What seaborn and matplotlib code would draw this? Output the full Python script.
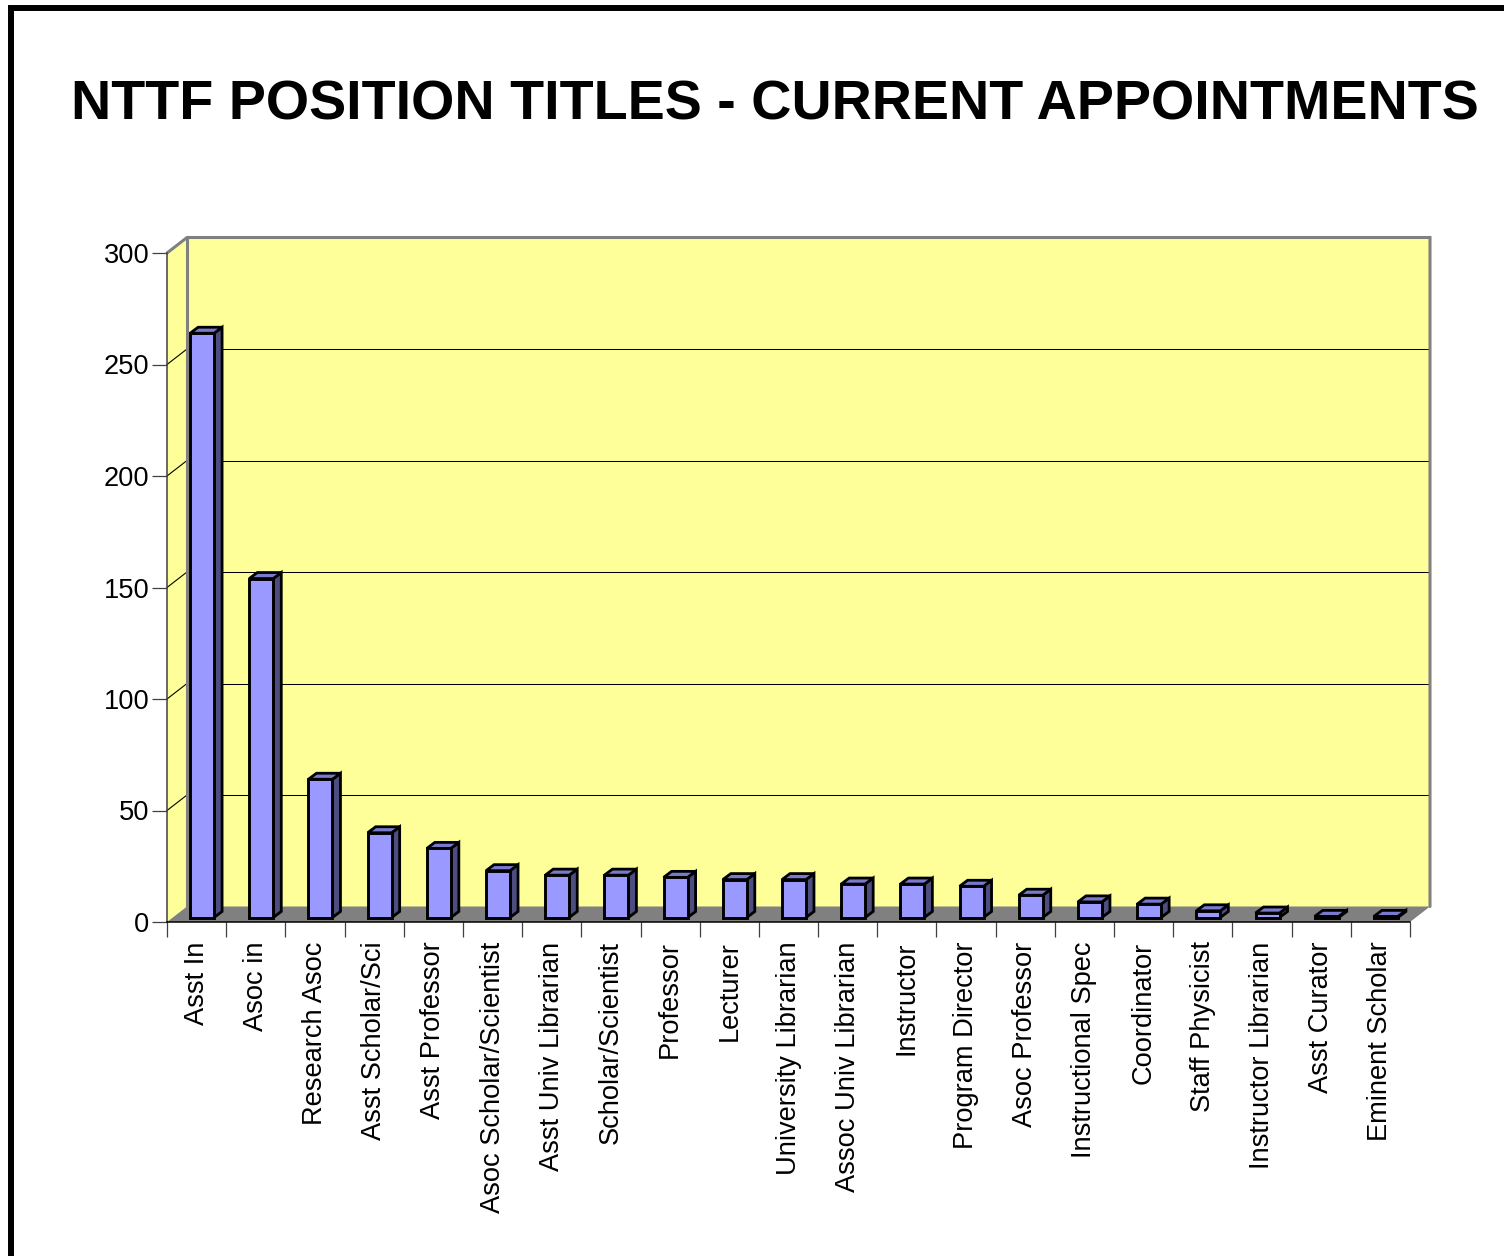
import matplotlib
matplotlib.use('Agg')
import matplotlib.pyplot as plt
import numpy as np
import pandas as pd
import seaborn as sns
from matplotlib.patches import Polygon, Rectangle

titles = ['Asst In', 'Asoc in', 'Research Asoc', 'Asst Scholar/Sci', 'Asst Professor',
          'Asoc Scholar/Scientist', 'Asst Univ Librarian', 'Scholar/Scientist', 'Professor',
          'Lecturer', 'University Librarian', 'Assoc Univ Librarian', 'Instructor',
          'Program Director', 'Asoc Professor', 'Instructional Spec', 'Coordinator',
          'Staff Physicist', 'Instructor Librarian', 'Asst Curator', 'Eminent Scholar']
counts = [262, 152, 62, 38, 31, 21, 19, 19, 18, 17, 17, 15, 15, 14, 10, 7, 6, 3, 2, 0.5, 0.5]
y_ticks = [0, 50, 100, 150, 200, 250, 300]

W, H = 1504, 1256
LEFT, RIGHT, TOP, BOTTOM = 167, 1410, 253, 922
px_x = (RIGHT - LEFT) / len(titles)
px_y = (BOTTOM - TOP) / 300

# depth of the fake 3d box, and of the bars inside it (data units)
wall_dx, wall_dy = 20 / px_x, 15.5 / px_y
bar_dx, bar_dy = 5.5 / px_x, 4.5 / px_y
depth_dx, depth_dy = 8 / px_x, 6 / px_y

sns.set_theme(style='white')
plt.rcParams['font.family'] = ['Liberation Sans', 'DejaVu Sans']

df = pd.DataFrame({'title': titles, 'count': counts})

fig = plt.figure(figsize=(W / 100, H / 100), dpi=100, facecolor='white')
ax = fig.add_axes([LEFT / W, 1 - BOTTOM / H, (RIGHT - LEFT) / W, (BOTTOM - TOP) / H])
ax.patch.set_visible(False)

x0, x1 = -0.5, len(titles) - 0.5

# walls and floor
wall_color = '#FFFF99'
floor_color = '#808080'
ax.add_patch(Rectangle((x0 + wall_dx, wall_dy), x1 - x0, 300, fc=wall_color, ec='none',
                       zorder=0, clip_on=False))
ax.add_patch(Polygon([(x0, 0), (x0, 300), (x0 + wall_dx, 300 + wall_dy), (x0 + wall_dx, wall_dy)],
                     fc=wall_color, ec='none', zorder=0, clip_on=False))
for v in y_ticks[1:-1]:
    ax.plot([x0, x0 + wall_dx], [v, v + wall_dy], color='black', lw=0.8, zorder=1, clip_on=False)
    ax.plot([x0 + wall_dx, x1 + wall_dx], [v + wall_dy, v + wall_dy], color='black', lw=0.75,
            zorder=1, clip_on=False, snap=True)
ax.plot([x0, x0 + wall_dx, x1 + wall_dx, x1 + wall_dx],
        [300, 300 + wall_dy, 300 + wall_dy, wall_dy],
        color=floor_color, lw=2.2, zorder=1, clip_on=False, solid_joinstyle='miter')
ax.plot([x0 + wall_dx, x0 + wall_dx], [wall_dy, 300 + wall_dy], color=floor_color, lw=2.2, zorder=1,
        clip_on=False)
ax.add_patch(Polygon([(x0, 0), (x1, 0), (x1 + wall_dx, wall_dy), (x0 + wall_dx, wall_dy)],
                     fc=floor_color, ec='none', zorder=2, clip_on=False))

sns.barplot(data=df, x='title', y='count', color='#9999FF', saturation=1, width=0.405,
            edgecolor='black', linewidth=2.1, zorder=4, ax=ax)

# move the seaborn bars back into the box, then give them a side and a top
for bar in list(ax.patches):
    if bar.get_zorder() != 4:
        continue
    bar.set_x(bar.get_x() + bar_dx)
    bar.set_y(bar_dy)
    bar.set_clip_on(False)
    bar.set_joinstyle('miter')
    a, b, h = bar.get_x(), bar.get_x() + bar.get_width(), bar.get_height() + bar_dy
    ax.add_patch(Polygon([(b, bar_dy), (b + depth_dx, bar_dy + depth_dy),
                          (b + depth_dx, h + depth_dy), (b, h)],
                         fc='#4D4D80', ec='black', lw=2.0, zorder=3, clip_on=False))
    ax.add_patch(Polygon([(a, h), (a + depth_dx, h + depth_dy), (b + depth_dx, h + depth_dy), (b, h)],
                         fc='#7A7ACC', ec='black', lw=2.0, zorder=3, clip_on=False))

ax.set_xlim(x0, x1)
ax.set_ylim(0, 300)
ax.set_xlabel('')
ax.set_ylabel('')

ax.set_yticks(y_ticks)
ax.set_xticks(range(len(titles)))
ax.set_xticks(np.arange(x0, x1 + 1), minor=True)
ax.set_xticklabels(titles, rotation=90, ha='right', va='center', rotation_mode='anchor',
                   fontsize=19.6, color='black')
ax.tick_params(axis='x', which='major', length=0, pad=14)
ax.tick_params(axis='x', which='minor', bottom=True, length=10.8, width=0.9, color='#404040')
ax.tick_params(axis='y', left=True, length=10.8, width=0.9, color='#404040', pad=2,
               labelsize=19.6, labelcolor='black')

sns.despine(ax=ax, top=True, right=True)
ax.spines['left'].set_color('#404040')
ax.spines['left'].set_linewidth(1.1)
ax.spines['bottom'].set_color('black')
ax.spines['bottom'].set_linewidth(1.1)
for spine in ax.spines.values():
    spine.set_zorder(5)

fig.suptitle('NTTF POSITION TITLES - CURRENT APPOINTMENTS', x=775 / W, y=1 - 105 / H, ha='center',
             va='center', fontsize=40.1, fontweight='bold', color='black')

# slide border, right and bottom edges run off the picture
fig.add_artist(Rectangle((11 / W, -0.1), 1.2, 0.1 + (1 - 8 / H), transform=fig.transFigure, fc='none',
                         ec='black', lw=4.3))

fig.savefig('out.png', dpi=100)
